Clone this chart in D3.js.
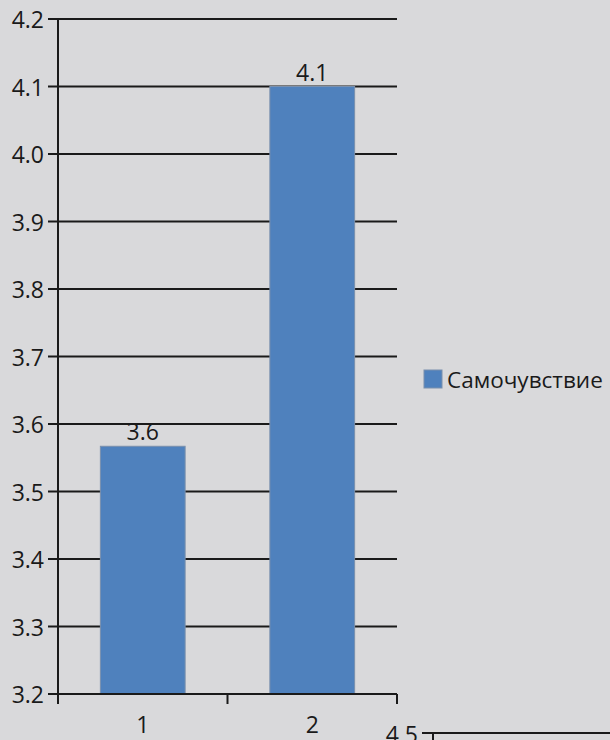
<!DOCTYPE html>
<html><head><meta charset="utf-8">
<script src="https://cdn.jsdelivr.net/npm/d3@7"></script>
<style>html,body{margin:0;padding:0;background:#d9d9db;}svg{display:block;}</style>
</head><body>
<script>
const categories = ["1", "2"];
const values = [3.567, 4.1];
const labels = ["3.6", "4.1"];
const seriesName = "Самочувствие";
const yTicks = [3.2, 3.3, 3.4, 3.5, 3.6, 3.7, 3.8, 3.9, 4.0, 4.1, 4.2];

(function () {
const W = 610, H = 740;
const FS = 23;
const svg = d3.select("body").append("svg").attr("width", W).attr("height", H)
  .style("font-family", "'Open Sans', 'DejaVu Sans', sans-serif");
svg.append("rect").attr("width", W).attr("height", H).attr("fill", "#d9d9db");

const pL = 58, pR = 397, pT = 19, pB = 694;
const x = d3.scaleBand().domain(categories).range([pL, pR]).paddingInner(0.5).paddingOuter(0.25);
const y = d3.scaleLinear().domain([3.2, 4.2]).range([pB, pT]);

// gridlines
svg.append("g").selectAll("line").data(yTicks).join("line")
  .attr("x1", pL - 10).attr("x2", pR)
  .attr("y1", d => y(d)).attr("y2", d => y(d))
  .attr("stroke", "#1a1a1a").attr("stroke-width", 2);

// bars
svg.append("g").selectAll("rect").data(values).join("rect")
  .attr("x", (d, i) => x(categories[i]))
  .attr("width", x.bandwidth())
  .attr("y", d => y(d))
  .attr("height", d => pB - y(d))
  .attr("fill", "#4f81bd").attr("stroke", "#7a90ad").attr("stroke-width", 1);

// y axis line
svg.append("line").attr("x1", pL).attr("x2", pL).attr("y1", pT).attr("y2", pB + 10)
  .attr("stroke", "#1a1a1a").attr("stroke-width", 2);
// x axis line
svg.append("line").attr("x1", pL - 10).attr("x2", pR).attr("y1", pB).attr("y2", pB)
  .attr("stroke", "#1a1a1a").attr("stroke-width", 2);
// x ticks at band boundaries
const xb = [pL, (pL + pR) / 2, pR];
svg.append("g").selectAll("line").data(xb).join("line")
  .attr("x1", d => d).attr("x2", d => d).attr("y1", pB).attr("y2", pB + 10)
  .attr("stroke", "#1a1a1a").attr("stroke-width", 2);

// y tick labels
svg.append("g").selectAll("text").data(yTicks).join("text")
  .attr("x", 44).attr("y", d => y(d) + 9)
  .attr("text-anchor", "end").attr("font-size", FS).attr("fill", "#1a1a1a")
  .text(d => d.toFixed(1));

// x tick labels
svg.append("g").selectAll("text").data(categories).join("text")
  .attr("x", d => x(d) + x.bandwidth() / 2).attr("y", 733)
  .attr("text-anchor", "middle").attr("font-size", FS).attr("fill", "#1a1a1a")
  .text(d => d);

// data labels
svg.append("g").selectAll("text").data(values).join("text")
  .attr("x", (d, i) => x(categories[i]) + x.bandwidth() / 2).attr("y", d => y(d) - 6)
  .attr("text-anchor", "middle").attr("font-size", FS).attr("fill", "#1a1a1a")
  .text((d, i) => labels[i]);

// legend
svg.append("rect").attr("x", 424).attr("y", 370).attr("width", 18).attr("height", 18)
  .attr("fill", "#4f81bd").attr("stroke", "#7a90ad");
svg.append("text").attr("x", 447).attr("y", 388).attr("font-size", 22.5).attr("fill", "#1a1a1a")
  .text(seriesName);

// partial next chart at bottom right
svg.append("line").attr("x1", 422).attr("x2", W).attr("y1", 733).attr("y2", 733)
  .attr("stroke", "#1a1a1a").attr("stroke-width", 2);
svg.append("line").attr("x1", 433).attr("x2", 433).attr("y1", 733).attr("y2", 740)
  .attr("stroke", "#1a1a1a").attr("stroke-width", 2);
svg.append("text").attr("x", 418).attr("y", 743).attr("text-anchor", "end").attr("font-size", FS).attr("fill", "#1a1a1a")
  .text("4.5");
})();
</script>
</body></html>
